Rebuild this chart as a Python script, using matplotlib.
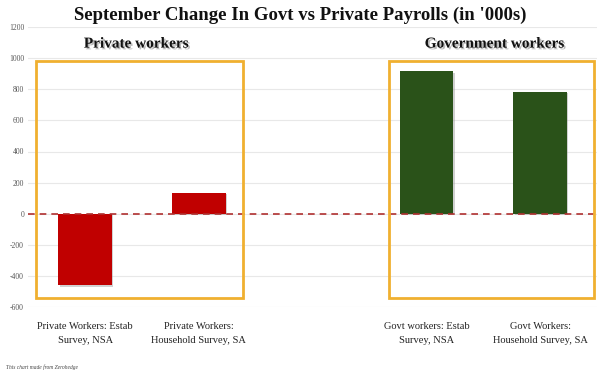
import matplotlib.pyplot as plt
import matplotlib.patheffects as pe
from matplotlib.patches import Rectangle
from matplotlib.transforms import offset_copy

categories = ["Private Workers: Estab\nSurvey, NSA",
              "Private Workers:\nHousehold Survey, SA",
              "",
              "Govt workers: Estab\nSurvey, NSA",
              "Govt Workers:\nHousehold Survey, SA"]
values = [-460, 135, None, 915, 785]
colors = ["#C00000", "#C00000", "none", "#2A5219", "#2A5219"]
yticks = [-600, -400, -200, 0, 200, 400, 600, 800, 1000, 1200]

plt.rcParams["font.family"] = ["Liberation Serif", "DejaVu Serif"]

fig = plt.figure(figsize=(6, 3.75), dpi=100)
ax = fig.add_axes([0.047, 0.181, 0.948, 0.747])

xs = list(range(len(categories)))
shadow_tr = offset_copy(ax.transData, fig=fig, x=1.5, y=-1.5, units="dots")
for x, v, c in zip(xs, values, colors):
    if v is None:
        continue
    ax.bar(x, v, width=0.47, color="#999999", alpha=0.45, zorder=2,
           transform=shadow_tr)
    ax.bar(x, v, width=0.47, color=c, zorder=3)

ax.set_xlim(-0.5, 4.5)
ax.set_ylim(-600, 1200)
ax.set_yticks(yticks)
ax.set_yticklabels([str(t) for t in yticks], fontsize=5.5, color="#555555")
ax.set_xticks(xs)
ax.set_xticklabels(categories, fontsize=7.5, color="#222222", linespacing=1.7)
ax.tick_params(axis="both", length=0, pad=3)
ax.tick_params(axis="x", pad=11)
ax.yaxis.grid(True, color="#E8E8E8", lw=0.8, zorder=0)
for s in ax.spines.values():
    s.set_visible(False)

ax.axhline(0, color="#B03030", lw=1.2, ls=(0, (4, 3)), zorder=4)

# orange group boxes
for x0, x1 in [(-0.43, 1.385), (2.675, 4.47)]:
    ax.add_patch(Rectangle((x0, -540), x1 - x0, 1520, fill=False,
                           edgecolor="#F0B030", lw=2, zorder=5))

txt_shadow = [pe.SimplePatchShadow(offset=(1.2, -1.2), shadow_rgbFace="#666666", alpha=0.45),
              pe.Normal()]
for x, label in [(0.45, "Private workers"), (3.6, "Government workers")]:
    ax.text(x, 1090, label, ha="center", va="center", fontsize=11,
            fontweight="bold", color="#111111", path_effects=txt_shadow)

fig.text(0.5, 0.96, "September Change In Govt vs Private Payrolls (in '000s)",
         ha="center", va="center", fontsize=13.5, fontweight="bold", color="#111111")
fig.text(0.01, 0.015, "This chart made from Zerohedge", fontsize=4, style="italic",
         color="#444444")

fig.savefig("out.png", dpi=100, facecolor="white")
